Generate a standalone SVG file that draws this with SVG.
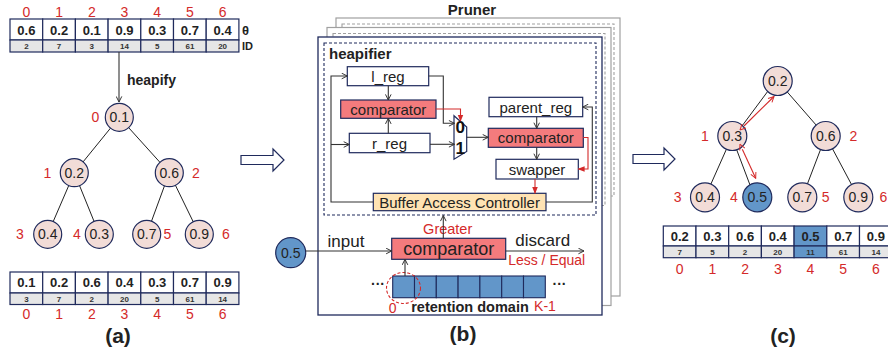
<svg xmlns="http://www.w3.org/2000/svg" width="888" height="352" viewBox="0 0 888 352">
  <style>
    text { font-family: "Liberation Sans", Arial, sans-serif; dominant-baseline: central; }
    .val { font-size: 13px; font-weight: bold; fill: #222; text-anchor: middle; }
    .id { font-size: 8px; font-weight: bold; fill: #333; text-anchor: middle; }
    .idx { font-size: 14px; fill: #D42A2A; text-anchor: middle; }
    .cell { fill: #fff; stroke: #1F2A5C; stroke-width: 1.2; }
    .idcell { fill: #E6E6E6; stroke: #1F2A5C; stroke-width: 1.2; }
    .hot { fill: #6296C9; }
    .node { fill: #F2DCD7; stroke: #1F2A5C; stroke-width: 1.2; }
    .nodeb { fill: #6296C9; stroke: #1F2A5C; stroke-width: 1.2; }
    .nt { font-size: 14px; fill: #222; text-anchor: middle; }
    .edge { stroke: #222; stroke-width: 1; fill: none; }
    .box { fill: #fff; stroke: #1F2A5C; stroke-width: 1.2; }
    .cmp { fill: #F47B7D; stroke: #1F2A5C; stroke-width: 1.2; }
    .bac { fill: #FFE3B3; stroke: #1F2A5C; stroke-width: 1.2; }
    .bt { font-size: 15px; fill: #222; text-anchor: middle; }
    .wire { stroke: #333; stroke-width: 1.1; fill: none; }
    .rwire { stroke: #D42A2A; stroke-width: 1.1; fill: none; }
    .cap { font-size: 21px; font-weight: bold; fill: #222; text-anchor: middle; }
    .hollow { fill: #fff; stroke: #1F2A5C; stroke-width: 1.2; }
    .back { fill: #fff; stroke: #A0A0A0; stroke-width: 1.2; }
    .backdash { fill: none; stroke: #A0A0A0; stroke-width: 1.1; stroke-dasharray: 3 2; }
  </style>
  <defs>
    <marker id="arr" viewBox="0 0 10 10" refX="9" refY="5" markerWidth="7" markerHeight="7" markerUnits="userSpaceOnUse" orient="auto">
      <path d="M1,1 L9,5 L1,9" fill="none" stroke="#333" stroke-width="1.4"/>
    </marker>
    <marker id="rarr" viewBox="0 0 10 10" refX="9" refY="5" markerWidth="7" markerHeight="7" markerUnits="userSpaceOnUse" orient="auto">
      <path d="M0,1 L10,5 L0,9 Z" fill="#D42A2A"/>
    </marker>
    <marker id="rarrs" viewBox="0 0 10 10" refX="1" refY="5" markerWidth="7" markerHeight="7" markerUnits="userSpaceOnUse" orient="auto-start-reverse">
      <path d="M1,1 L9,5 L1,9" fill="none" stroke="#D42A2A" stroke-width="1.4"/>
    </marker>
    <marker id="rarre" viewBox="0 0 10 10" refX="9" refY="5" markerWidth="7" markerHeight="7" markerUnits="userSpaceOnUse" orient="auto">
      <path d="M1,1 L9,5 L1,9" fill="none" stroke="#D42A2A" stroke-width="1.4"/>
    </marker>
  </defs>

  <!-- ===== (a) input array ===== -->
  <g id="array-input">
    <g class="idx">
      <text x="26.4" y="12">0</text><text x="59.1" y="12">1</text><text x="91.8" y="12">2</text><text x="124.5" y="12">3</text><text x="157.2" y="12">4</text><text x="189.9" y="12">5</text><text x="222.6" y="12">6</text>
    </g>
    <rect class="cell" x="10" y="19" width="32.7" height="21"/><rect class="cell" x="42.7" y="19" width="32.7" height="21"/><rect class="cell" x="75.4" y="19" width="32.7" height="21"/><rect class="cell" x="108.1" y="19" width="32.7" height="21"/><rect class="cell" x="140.8" y="19" width="32.7" height="21"/><rect class="cell" x="173.5" y="19" width="32.7" height="21"/><rect class="cell" x="206.2" y="19" width="32.7" height="21"/>
    <rect class="idcell" x="10" y="40" width="32.7" height="12"/><rect class="idcell" x="42.7" y="40" width="32.7" height="12"/><rect class="idcell" x="75.4" y="40" width="32.7" height="12"/><rect class="idcell" x="108.1" y="40" width="32.7" height="12"/><rect class="idcell" x="140.8" y="40" width="32.7" height="12"/><rect class="idcell" x="173.5" y="40" width="32.7" height="12"/><rect class="idcell" x="206.2" y="40" width="32.7" height="12"/>
    <g class="val">
      <text x="26.4" y="30">0.6</text><text x="59.1" y="30">0.2</text><text x="91.8" y="30">0.1</text><text x="124.5" y="30">0.9</text><text x="157.2" y="30">0.3</text><text x="189.9" y="30">0.7</text><text x="222.6" y="30">0.4</text>
    </g>
    <g class="id">
      <text x="26.4" y="46.5">2</text><text x="59.1" y="46.5">7</text><text x="91.8" y="46.5">3</text><text x="124.5" y="46.5">14</text><text x="157.2" y="46.5">5</text><text x="189.9" y="46.5">61</text><text x="222.6" y="46.5">20</text>
    </g>
    <text x="242" y="30" font-size="13" font-weight="bold" fill="#222">θ</text>
    <text x="242" y="46" font-size="11" font-weight="bold" fill="#222">ID</text>
  </g>

  <!-- ===== (a) heap tree ===== -->
  <g id="tree-a-edges">
    <line class="edge" x1="119.3" y1="117.3" x2="74.3" y2="172.7"/>
    <line class="edge" x1="119.3" y1="117.3" x2="169.3" y2="172.7"/>
    <line class="edge" x1="74.3" y1="172.7" x2="47.7" y2="234.3"/>
    <line class="edge" x1="74.3" y1="172.7" x2="99.3" y2="234.3"/>
    <line class="edge" x1="169.3" y1="172.7" x2="146.7" y2="234.3"/>
    <line class="edge" x1="169.3" y1="172.7" x2="199.3" y2="234.3"/>
  </g>
  <g id="tree-a-n0"><circle class="node" cx="119.3" cy="117.3" r="14"/><text class="nt" x="119.3" y="117.3">0.1</text><text class="idx" x="95.5" y="117.3">0</text></g>
  <g id="tree-a-n1"><circle class="node" cx="74.3" cy="172.7" r="14"/><text class="nt" x="74.3" y="172.7">0.2</text><text class="idx" x="47.5" y="172.7">1</text></g>
  <g id="tree-a-n2"><circle class="node" cx="169.3" cy="172.7" r="14"/><text class="nt" x="169.3" y="172.7">0.6</text><text class="idx" x="196" y="172.7">2</text></g>
  <g id="tree-a-n3"><circle class="node" cx="47.7" cy="234.3" r="14"/><text class="nt" x="47.7" y="234.3">0.4</text><text class="idx" x="20" y="234.3">3</text></g>
  <g id="tree-a-n4"><circle class="node" cx="99.3" cy="234.3" r="14"/><text class="nt" x="99.3" y="234.3">0.3</text><text class="idx" x="77" y="234.3">4</text></g>
  <g id="tree-a-n5"><circle class="node" cx="146.7" cy="234.3" r="14"/><text class="nt" x="146.7" y="234.3">0.7</text><text class="idx" x="167.5" y="234.3">5</text></g>
  <g id="tree-a-n6"><circle class="node" cx="199.3" cy="234.3" r="14"/><text class="nt" x="199.3" y="234.3">0.9</text><text class="idx" x="226" y="234.3">6</text></g>

  <!-- ===== (a) heapified array ===== -->
  <g id="array-heap">
    <rect class="cell" x="10" y="272" width="32.7" height="21"/><rect class="cell" x="42.7" y="272" width="32.7" height="21"/><rect class="cell" x="75.4" y="272" width="32.7" height="21"/><rect class="cell" x="108.1" y="272" width="32.7" height="21"/><rect class="cell" x="140.8" y="272" width="32.7" height="21"/><rect class="cell" x="173.5" y="272" width="32.7" height="21"/><rect class="cell" x="206.2" y="272" width="32.7" height="21"/>
    <rect class="idcell" x="10" y="293" width="32.7" height="11.5"/><rect class="idcell" x="42.7" y="293" width="32.7" height="11.5"/><rect class="idcell" x="75.4" y="293" width="32.7" height="11.5"/><rect class="idcell" x="108.1" y="293" width="32.7" height="11.5"/><rect class="idcell" x="140.8" y="293" width="32.7" height="11.5"/><rect class="idcell" x="173.5" y="293" width="32.7" height="11.5"/><rect class="idcell" x="206.2" y="293" width="32.7" height="11.5"/>
    <g class="val">
      <text x="26.4" y="282.5">0.1</text><text x="59.1" y="282.5">0.2</text><text x="91.8" y="282.5">0.6</text><text x="124.5" y="282.5">0.4</text><text x="157.2" y="282.5">0.3</text><text x="189.9" y="282.5">0.7</text><text x="222.6" y="282.5">0.9</text>
    </g>
    <g class="id">
      <text x="26.4" y="299">3</text><text x="59.1" y="299">7</text><text x="91.8" y="299">2</text><text x="124.5" y="299">20</text><text x="157.2" y="299">5</text><text x="189.9" y="299">61</text><text x="222.6" y="299">14</text>
    </g>
    <g class="idx">
      <text x="26.4" y="314">0</text><text x="59.1" y="314">1</text><text x="91.8" y="314">2</text><text x="124.5" y="314">3</text><text x="157.2" y="314">4</text><text x="189.9" y="314">5</text><text x="222.6" y="314">6</text>
    </g>
  </g>
  <text class="cap" x="118" y="335">(a)</text>

  <!-- heapify step -->
  <g id="heapify-arrow">
    <line class="wire" x1="119" y1="52" x2="119" y2="102" marker-end="url(#arr)"/>
    <text x="127" y="80" font-size="14" font-weight="bold" fill="#222">heapify</text>
  </g>

  <!-- panel transitions -->
  <g id="step-arrows">
    <polygon class="hollow" points="241,155.5 273,155.5 273,149 284,160 273,171 273,164.5 241,164.5"/>
    <polygon class="hollow" points="633,154.5 664,154.5 664,148 675,159 664,170 664,163.5 633,163.5"/>
  </g>

  <!-- ===== (b) Pruner ===== -->
  <g id="pruner-stack">
    <text x="472" y="9" font-size="15" font-weight="bold" fill="#222" text-anchor="middle">Pruner</text>
    <rect class="back" x="336" y="18" width="284" height="278"/>
    <rect class="backdash" x="342" y="24" width="272" height="172"/>
    <rect class="back" x="327" y="27.5" width="284" height="278"/>
    <rect class="backdash" x="333" y="33.5" width="272" height="172"/>
    <rect fill="#fff" stroke="#1F2A5C" stroke-width="1.3" x="318" y="37" width="284" height="278"/>
  </g>
  <g id="heapifier">
    <rect x="324" y="43" width="272" height="172" fill="none" stroke="#1F2A5C" stroke-width="1.1" stroke-dasharray="3 2"/>
    <text x="329" y="53" font-size="15" font-weight="bold" fill="#222">heapifier</text>
  </g>
  <g id="l_reg"><rect class="box" x="347.3" y="66.7" width="81.4" height="19"/><text class="bt" x="388" y="76.5">l_reg</text></g>
  <g id="cmp-lr"><rect class="cmp" x="340.7" y="100" width="95.3" height="18.3"/><text class="bt" x="388.3" y="109.3">comparator</text></g>
  <g id="r_reg"><rect class="box" x="349.3" y="133.3" width="80.7" height="19.4"/><text class="bt" x="389.5" y="143">r_reg</text></g>
  <g id="mux">
    <polygon fill="#fff" stroke="#1F2A5C" stroke-width="1.2" points="454,115.7 466.7,127 466.7,151.5 454,159.3"/>
    <text x="460.3" y="127.5" font-size="17" font-weight="bold" fill="#111" text-anchor="middle">0</text>
    <text x="460.3" y="148" font-size="17" font-weight="bold" fill="#111" text-anchor="middle">1</text>
  </g>
  <g id="parent_reg"><rect class="box" x="489" y="97.3" width="93.7" height="19.4"/><text class="bt" x="535.8" y="107">parent_reg</text></g>
  <g id="cmp-parent"><rect class="cmp" x="488.3" y="128.3" width="95" height="19"/><text class="bt" x="535.8" y="137.8">comparator</text></g>
  <g id="swapper"><rect class="box" x="496" y="159.3" width="82.3" height="19.7"/><text class="bt" x="537" y="169.2">swapper</text></g>
  <g id="bac"><rect class="bac" x="373.3" y="193.3" width="172.7" height="17.4"/><text class="bt" x="459.6" y="202">Buffer Access Controller</text></g>

  <g id="cmp-input"><rect class="cmp" x="391.7" y="238.3" width="114" height="21"/><text x="448.7" y="248.8" font-size="18" fill="#222" text-anchor="middle">comparator</text></g>
  <g id="input-node"><circle class="nodeb" cx="290.7" cy="252.7" r="15"/><text class="nt" x="290.7" y="252.7">0.5</text></g>

  <g id="retention">
    <rect x="392.7" y="276" width="21.8" height="21.7" fill="#6296C9" stroke="#1F2A5C" stroke-width="1.1"/>
    <rect x="414.5" y="276" width="21.8" height="21.7" fill="#6296C9" stroke="#1F2A5C" stroke-width="1.1"/>
    <rect x="436.3" y="276" width="21.8" height="21.7" fill="#6296C9" stroke="#1F2A5C" stroke-width="1.1"/>
    <rect x="458.1" y="276" width="21.8" height="21.7" fill="#6296C9" stroke="#1F2A5C" stroke-width="1.1"/>
    <rect x="479.9" y="276" width="21.8" height="21.7" fill="#6296C9" stroke="#1F2A5C" stroke-width="1.1"/>
    <rect x="501.7" y="276" width="21.8" height="21.7" fill="#6296C9" stroke="#1F2A5C" stroke-width="1.1"/>
    <rect x="523.5" y="276" width="21.8" height="21.7" fill="#6296C9" stroke="#1F2A5C" stroke-width="1.1"/>
    <ellipse cx="403.5" cy="288" rx="17" ry="15.5" fill="none" stroke="#D42A2A" stroke-width="1.1" stroke-dasharray="3 2"/>
    <text x="378" y="284" font-size="14" font-weight="bold" fill="#222" text-anchor="middle">···</text>
    <text x="559.5" y="284" font-size="14" font-weight="bold" fill="#222" text-anchor="middle">···</text>
    <text class="idx" x="392.7" y="307.5">0</text>
    <text x="470" y="307" font-size="14.5" font-weight="bold" fill="#222" text-anchor="middle">retention domain</text>
    <text class="idx" x="545" y="306">K-1</text>
  </g>

  <g id="b-labels">
    <text x="346" y="241.7" font-size="17" fill="#222" text-anchor="middle">input</text>
    <text x="542.7" y="240.7" font-size="17" fill="#222" text-anchor="middle">discard</text>
    <text x="447.7" y="229" font-size="14.5" fill="#D42A2A" text-anchor="middle">Greater</text>
    <text x="546.7" y="260" font-size="14" fill="#D42A2A" text-anchor="middle">Less / Equal</text>
  </g>
  <text class="cap" x="463" y="333.5">(b)</text>

  <!-- connectors inside the pruner -->
  <g id="connectors">
    <polyline class="wire" points="373.3,202 331,202 331,76 347.3,76" marker-end="url(#arr)"/>
    <polyline class="wire" points="331,144.5 349.3,144.5" marker-end="url(#arr)"/>
    <line class="wire" x1="388.3" y1="85.7" x2="388.3" y2="100" marker-end="url(#arr)"/>
    <line class="wire" x1="388.3" y1="133.3" x2="388.3" y2="118.3" marker-end="url(#arr)"/>
    <polyline class="wire" points="428.7,76 443.3,76 443.3,123.3 454.5,123.3" marker-end="url(#arr)"/>
    <polyline class="rwire" points="436,109 460.5,109 460.5,121" marker-end="url(#rarr)"/>
    <line class="wire" x1="430" y1="144.3" x2="454.5" y2="144.3" marker-end="url(#arr)"/>
    <line class="wire" x1="466.7" y1="137.3" x2="488.3" y2="137.3" marker-end="url(#arr)"/>
    <line class="wire" x1="536.7" y1="116.7" x2="536.7" y2="128.3" marker-end="url(#arr)"/>
    <line class="wire" x1="536.7" y1="147.3" x2="536.7" y2="159.3" marker-end="url(#arr)"/>
    <polyline class="rwire" points="583.3,137.5 588,137.5 588,169 578.3,169" marker-end="url(#rarr)"/>
    <line class="rwire" x1="535" y1="179" x2="535" y2="193.3" marker-end="url(#rarr)"/>
    <polyline class="wire" points="546,202 592.3,202 592.3,107 582.7,107" marker-end="url(#arr)"/>
    <line class="wire" x1="443.3" y1="238.3" x2="443.3" y2="215.5" marker-end="url(#arr)"/>
    <line class="wire" x1="305.7" y1="251" x2="391.7" y2="251" marker-end="url(#arr)"/>
    <line class="wire" x1="505.7" y1="251" x2="584" y2="251" marker-end="url(#arr)"/>
    <line class="wire" x1="405" y1="276" x2="405" y2="259.3" marker-end="url(#arr)"/>
  </g>

  <!-- ===== (c) tree after insertion ===== -->
  <g id="tree-c-edges">
    <line class="edge" x1="768" y1="91" x2="742" y2="126"/>
    <line class="edge" x1="777.7" y1="81" x2="825.7" y2="136"/>
    <line class="edge" x1="732.3" y1="136" x2="705" y2="197.3"/>
    <line class="edge" x1="736" y1="148" x2="750" y2="185"/>
    <line class="edge" x1="825.7" y1="136" x2="802.3" y2="197.3"/>
    <line class="edge" x1="825.7" y1="136" x2="858.3" y2="197.3"/>
  </g>
  <g id="tree-c-n0"><circle class="node" cx="777.7" cy="81" r="14.5"/><text class="nt" x="777.7" y="81">0.2</text></g>
  <g id="tree-c-n1"><circle class="node" cx="732.3" cy="136" r="14.5"/><text class="nt" x="732.3" y="136">0.3</text><text class="idx" x="705" y="136">1</text></g>
  <g id="tree-c-n2"><circle class="node" cx="825.7" cy="136" r="14.5"/><text class="nt" x="825.7" y="136">0.6</text><text class="idx" x="853.3" y="136">2</text></g>
  <g id="tree-c-n3"><circle class="node" cx="705" cy="197.3" r="14.5"/><text class="nt" x="705" y="197.3">0.4</text><text class="idx" x="677.7" y="197.3">3</text></g>
  <g id="tree-c-n4"><circle class="nodeb" cx="757.3" cy="197.3" r="14.5"/><text class="nt" x="757.3" y="197.3">0.5</text><text class="idx" x="734" y="197.3">4</text></g>
  <g id="tree-c-n5"><circle class="node" cx="802.3" cy="197.3" r="14.5"/><text class="nt" x="802.3" y="197.3">0.7</text><text class="idx" x="825.7" y="197.3">5</text></g>
  <g id="tree-c-n6"><circle class="node" cx="858.3" cy="197.3" r="14.5"/><text class="nt" x="858.3" y="197.3">0.9</text><text class="idx" x="883.3" y="197.3">6</text></g>
  <g id="swap-arrows">
    <line class="rwire" x1="744" y1="126" x2="774" y2="96.5" marker-start="url(#rarrs)" marker-end="url(#rarre)"/>
    <line class="rwire" x1="742.3" y1="149.3" x2="755.7" y2="178.3" marker-start="url(#rarrs)" marker-end="url(#rarre)"/>
  </g>

  <!-- ===== (c) array ===== -->
  <g id="array-c">
    <rect class="cell" x="663.3" y="226" width="32.7" height="20"/><rect class="cell" x="696" y="226" width="32.7" height="20"/><rect class="cell" x="728.7" y="226" width="32.7" height="20"/><rect class="cell" x="761.4" y="226" width="32.7" height="20"/><rect class="cell hot" x="794.1" y="226" width="32.7" height="20"/><rect class="cell" x="826.8" y="226" width="32.7" height="20"/><rect class="cell" x="859.5" y="226" width="32.7" height="20"/>
    <rect class="idcell" x="663.3" y="246" width="32.7" height="11.7"/><rect class="idcell" x="696" y="246" width="32.7" height="11.7"/><rect class="idcell" x="728.7" y="246" width="32.7" height="11.7"/><rect class="idcell" x="761.4" y="246" width="32.7" height="11.7"/><rect class="idcell hot" x="794.1" y="246" width="32.7" height="11.7"/><rect class="idcell" x="826.8" y="246" width="32.7" height="11.7"/><rect class="idcell" x="859.5" y="246" width="32.7" height="11.7"/>
    <g class="val">
      <text x="679.7" y="236">0.2</text><text x="712.4" y="236">0.3</text><text x="745.1" y="236">0.6</text><text x="777.8" y="236">0.4</text><text x="810.5" y="236">0.5</text><text x="843.2" y="236">0.7</text><text x="875.9" y="236">0.9</text>
    </g>
    <g class="id">
      <text x="679.7" y="252">7</text><text x="712.4" y="252">5</text><text x="745.1" y="252">2</text><text x="777.8" y="252">20</text><text x="810.5" y="252">11</text><text x="843.2" y="252">61</text><text x="875.9" y="252">14</text>
    </g>
    <g class="idx">
      <text x="679.7" y="268.5">0</text><text x="712.4" y="268.5">1</text><text x="745.1" y="268.5">2</text><text x="777.8" y="268.5">3</text><text x="810.5" y="268.5">4</text><text x="843.2" y="268.5">5</text><text x="875.9" y="268.5">6</text>
    </g>
  </g>
  <text class="cap" x="783" y="335">(c)</text>
</svg>
